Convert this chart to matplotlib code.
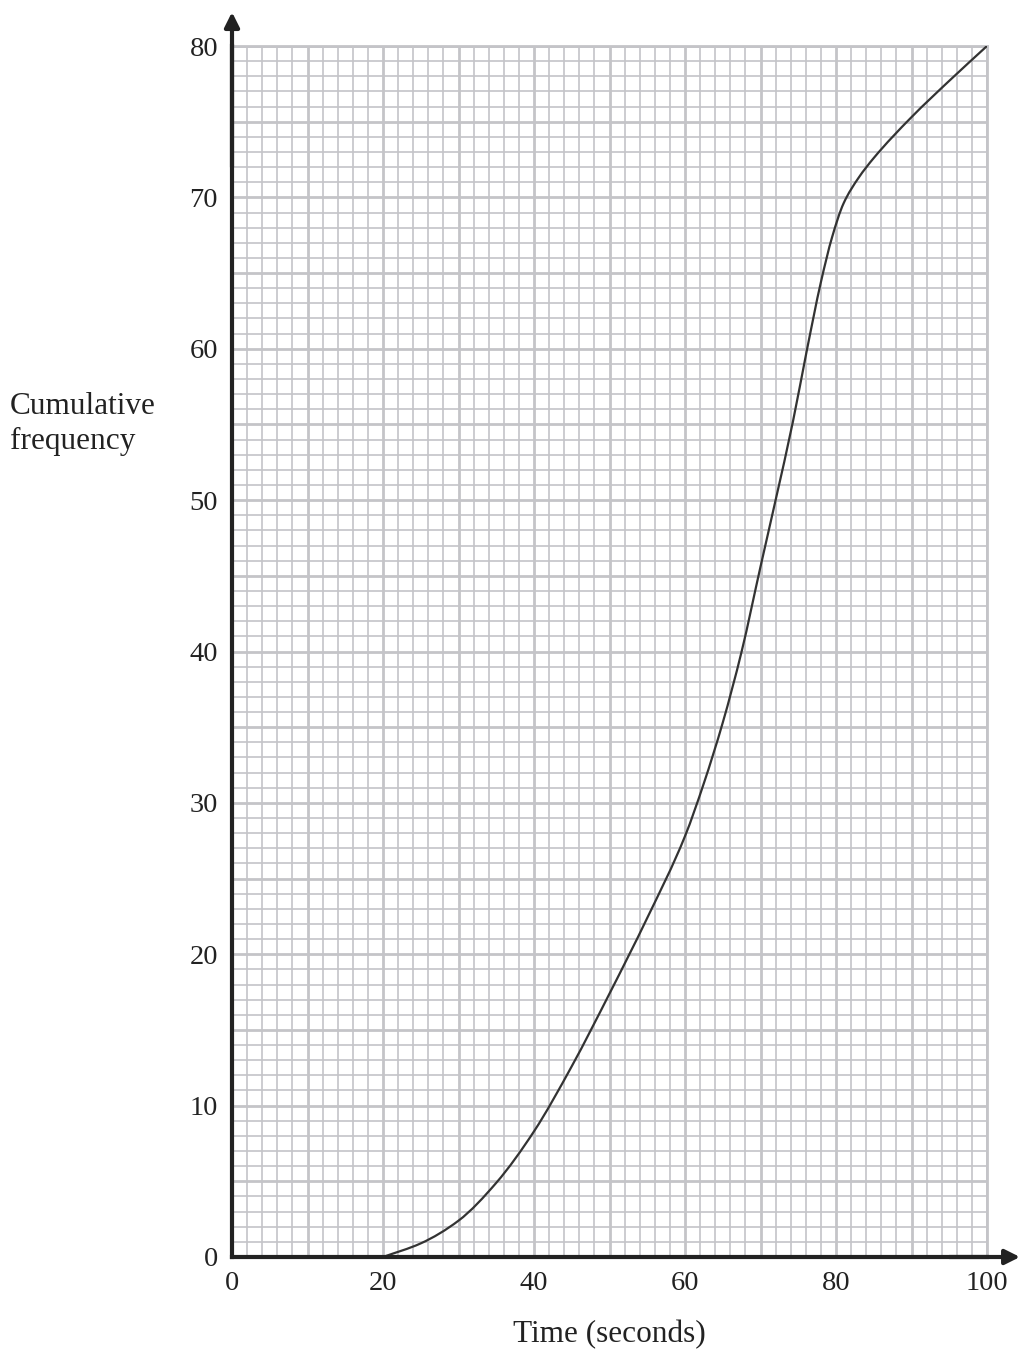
import matplotlib
matplotlib.use("Agg")
import matplotlib.pyplot as plt
import numpy as np
from matplotlib.ticker import MultipleLocator, FuncFormatter
from matplotlib.path import Path
from matplotlib.patches import PathPatch

# Data
time_s = [20, 25, 30, 35, 40, 45, 50, 55, 60, 62.5, 65, 67.5, 70, 72,
          74.3, 76.1, 78, 79.5, 81, 83, 85, 90, 95, 100]
cum_freq = [0, 0.9, 2.4, 4.9, 8.3, 12.6, 17.4, 22.4, 27.8, 31.3, 35.3, 40.0, 45.6, 50.0,
            55.2, 59.8, 64.4, 67.4, 69.6, 71.3, 72.6, 75.3, 77.7, 80.0]
x_ticks = [0, 20, 40, 60, 80, 100]
y_ticks = [0, 10, 20, 30, 40, 50, 60, 70, 80]

plt.rcParams['font.family'] = ['Liberation Serif', 'DejaVu Serif']

W, H = 1021, 1353
fig = plt.figure(figsize=(W / 100, H / 100), dpi=100)
left, right, bottom, top = 232 / W, 987 / W, 1 - 1257 / H, 1 - 46 / H
ax = fig.add_axes([left, bottom, right - left, top - bottom])
ax.set_xlim(0, 100)
ax.set_ylim(0, 80)

grid_col = '#c4c4c8'
ax.xaxis.set_major_locator(MultipleLocator(10))
ax.xaxis.set_minor_locator(MultipleLocator(2))
ax.yaxis.set_major_locator(MultipleLocator(5))
ax.yaxis.set_minor_locator(MultipleLocator(1))
ax.grid(which='major', color=grid_col, lw=2.0, zorder=0)
ax.grid(which='minor', color=grid_col, lw=1.2, zorder=0)
ax.set_axisbelow(True)

ax.xaxis.set_major_formatter(FuncFormatter(lambda v, p: f"{int(round(v))}" if int(round(v)) in x_ticks else ""))
ax.yaxis.set_major_formatter(FuncFormatter(lambda v, p: f"{int(round(v))}" if int(round(v)) in y_ticks else ""))
ax.tick_params(which='both', length=0)
ax.tick_params(axis='x', labelsize=20.5, pad=10, colors='#222222')
ax.tick_params(axis='y', labelsize=20.5, pad=10, colors='#222222')

for s in ['top', 'right']:
    ax.spines[s].set_color(grid_col)
    ax.spines[s].set_linewidth(2.0)
for s in ['left', 'bottom']:
    ax.spines[s].set_color('#222222')
    ax.spines[s].set_linewidth(3)
    ax.spines[s].set_zorder(5)

# Smooth curve through the read points (monotone cubic Hermite drawn as Bezier path)
xs = np.array(time_s, float)
ys = np.array(cum_freq, float)
h = np.diff(xs)
d = np.diff(ys) / h
m = np.zeros_like(xs)
m[0] = d[0]
m[-1] = d[-1]
for i in range(1, len(xs) - 1):
    if d[i - 1] * d[i] <= 0:
        m[i] = 0
    else:
        w1 = 2 * h[i] + h[i - 1]
        w2 = h[i] + 2 * h[i - 1]
        m[i] = (w1 + w2) / (w1 / d[i - 1] + w2 / d[i])
verts = [(xs[0], ys[0])]
codes = [Path.MOVETO]
for i in range(len(xs) - 1):
    verts += [(xs[i] + h[i] / 3, ys[i] + m[i] * h[i] / 3),
              (xs[i + 1] - h[i] / 3, ys[i + 1] - m[i + 1] * h[i] / 3),
              (xs[i + 1], ys[i + 1])]
    codes += [Path.CURVE4] * 3
ax.add_patch(PathPatch(Path(verts, codes), facecolor='none', edgecolor='#333333',
                       lw=1.6, zorder=4, transform=ax.transData))

ax.annotate('', xy=(0, 1.028), xycoords='axes fraction', xytext=(0, 0.9),
            arrowprops=dict(arrowstyle='-|>', lw=3, color='#222222', mutation_scale=22,
                            shrinkA=0, shrinkB=0), annotation_clip=False)
ax.annotate('', xy=(1.0437, 0), xycoords='axes fraction', xytext=(0.95, 0),
            arrowprops=dict(arrowstyle='-|>', lw=3, color='#222222', mutation_scale=22,
                            shrinkA=0, shrinkB=0), annotation_clip=False)

ax.set_xlabel('Time (seconds)', fontsize=22.5, color='#222222', labelpad=17)
fig.text(10 / W, 1 - 424 / H, 'Cumulative\nfrequency', fontsize=22.5, color='#222222',
         ha='left', va='center', linespacing=1.25)

fig.savefig('out.png', dpi=100, facecolor='white')
